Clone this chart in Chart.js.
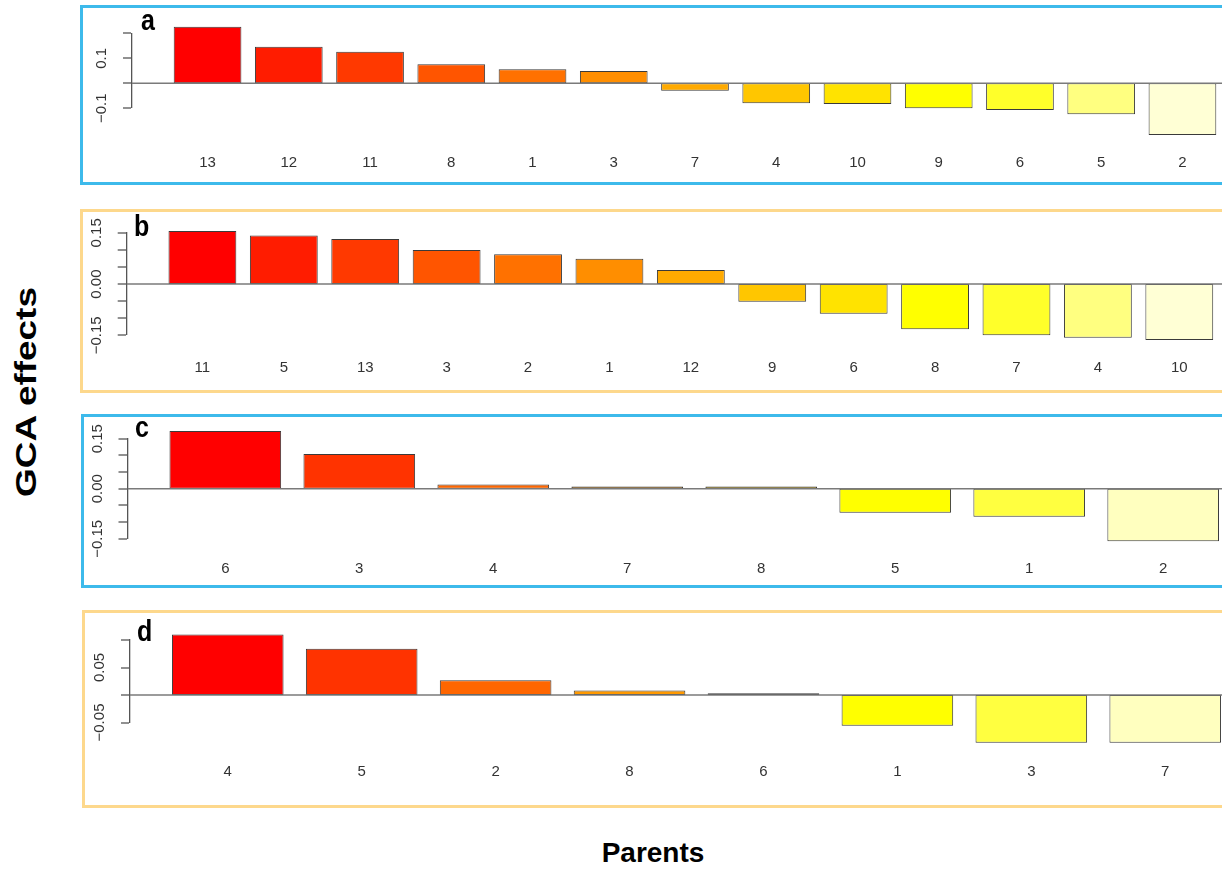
<!DOCTYPE html>
<html>
<head>
<meta charset="utf-8">
<title>GCA effects of parents</title>
<script src="https://cdn.jsdelivr.net/npm/chart.js@4.4.1/dist/chart.umd.min.js"></script>
<style>
  html, body { margin: 0; padding: 0; background: #fff; }
  body { width: 1222px; height: 869px; overflow: hidden; position: relative;
         font-family: "Liberation Sans", Arial, sans-serif; }
  .frame { position: absolute; box-sizing: border-box; border: 3px solid; }
  canvas { position: absolute; }
  .tag { position: absolute; font-weight: bold; font-size: 25px; line-height: 25px;
         transform: scaleY(1.2); transform-origin: 0 0; color: #000; }
  #ylab { position: absolute; left: 26px; top: 392px; font-size: 30px; font-weight: bold;
          line-height: 30px; white-space: nowrap; color: #000;
          transform: translate(-50%, -50%) rotate(-90deg) scaleX(1.23); }
  #xlab { position: absolute; left: 653px; top: 839px; font-size: 28px; font-weight: bold;
          line-height: 28px; white-space: nowrap; color: #000; transform: translateX(-50%); }
</style>
</head>
<body>
<div id="ylab">GCA effects</div>
<div id="xlab">Parents</div>

<script>
// ---- data: parents ordered by GCA effect, one set per trait panel ----
const parentsA = ['13', '12', '11', '8', '1', '3', '7', '4', '10', '9', '6', '5', '2'];
const gcaA     = [0.226, 0.146, 0.126, 0.076, 0.056, 0.049, -0.030, -0.080, -0.083, -0.100, -0.107, -0.124, -0.207];
const yTicksA      = [-0.1, 0, 0.1, 0.2];
const yTickLabelsA = ['\u22120.1', '', '0.1', ''];

const parentsB = ['11', '5', '13', '3', '2', '1', '12', '9', '6', '8', '7', '4', '10'];
const gcaB     = [0.155, 0.142, 0.132, 0.100, 0.087, 0.074, 0.041, -0.052, -0.087, -0.132, -0.150, -0.157, -0.164];
const yTicksB      = [-0.15, -0.10, -0.05, 0, 0.05, 0.10, 0.15];
const yTickLabelsB = ['\u22120.15', '', '', '0.00', '', '', '0.15'];

const parentsC = ['6', '3', '4', '7', '8', '5', '1', '2'];
const gcaC     = [0.173, 0.104, 0.013, 0.007, 0.007, -0.072, -0.084, -0.157];
const yTicksC      = [-0.15, -0.10, -0.05, 0, 0.05, 0.10, 0.15];
const yTickLabelsC = ['\u22120.15', '', '', '0.00', '', '', '0.15'];

const parentsD = ['4', '5', '2', '8', '6', '1', '3', '7'];
const gcaD     = [0.110, 0.084, 0.027, 0.008, 0.003, -0.056, -0.087, -0.087];
const yTicksD      = [-0.05, 0, 0.05, 0.10];
const yTickLabelsD = ['\u22120.05', '', '0.05', ''];

// ---- layout of the four stacked panels (page pixels) ----
const FONT = '"Liberation Sans", Arial, sans-serif';
const TICK_FONT = 15;
const BLUE = '#3dbaeb';
const GOLD = '#fdd88c';
const CANVAS_LEFT = 84;
const TICK_LEN = 9;

const panels = [
  { tag: 'a', cats: parentsA, vals: gcaA, yTicks: yTicksA, yLabels: yTickLabelsA,
    frame: { x: 80, y: 5, h: 180, color: BLUE }, tagPos: { x: 141, y: 4.6 },
    axisX: 132, plotRight: 1258, topPx: 33.3, bottomPx: 108.3, labelY: 163.3 },
  { tag: 'b', cats: parentsB, vals: gcaB, yTicks: yTicksB, yLabels: yTickLabelsB,
    frame: { x: 80, y: 208.5, h: 184.5, color: GOLD }, tagPos: { x: 134, y: 211.3 },
    axisX: 126.7, plotRight: 1255, topPx: 232.3, bottomPx: 334.3, labelY: 366.7 },
  { tag: 'c', cats: parentsC, vals: gcaC, yTicks: yTicksC, yLabels: yTickLabelsC,
    frame: { x: 81, y: 413.5, h: 174.5, color: BLUE }, tagPos: { x: 135, y: 411.9 },
    axisX: 127.5, plotRight: 1261, topPx: 438.2, bottomPx: 537.8, labelY: 568 },
  { tag: 'd', cats: parentsD, vals: gcaD, yTicks: yTicksD, yLabels: yTickLabelsD,
    frame: { x: 82, y: 610, h: 198, color: GOLD }, tagPos: { x: 137, y: 616.3 },
    axisX: 130, plotRight: 1263, topPx: 640, bottomPx: 722.5, labelY: 772 }
];

// R-style heat palette: red -> yellow, then fading yellows
function heatColors(n) {
  const j = Math.floor(n / 4), i = n - j;
  const hex = v => Math.round(v * 255).toString(16).padStart(2, '0');
  const hsv = (h, s) => {            // hue within [0, 1/6], value = 1
    const f = h * 6;
    return '#ff' + hex(1 - s * (1 - f)) + hex(1 - s);
  };
  const out = [];
  for (let k = 0; k < i; k++) out.push(hsv(i > 1 ? (k / (i - 1)) / 6 : 0, 1));
  const s0 = 1 - 1 / (2 * j), s1 = 1 / (2 * j);
  for (let k = 0; k < j; k++) out.push(hsv(1 / 6, j > 1 ? s0 - k * (s0 - s1) / (j - 1) : s0));
  return out;
}

const measure = document.createElement('canvas').getContext('2d');
measure.font = 'normal ' + TICK_FONT + 'px ' + FONT;

panels.forEach(p => {
  const n = p.cats.length;

  const frame = document.createElement('div');
  frame.className = 'frame';
  Object.assign(frame.style, {
    left: p.frame.x + 'px', top: p.frame.y + 'px', width: '1300px',
    height: p.frame.h + 'px', borderColor: p.frame.color
  });
  document.body.appendChild(frame);

  const canvasTop = p.frame.y + 3;
  const canvasH = p.frame.h - 6;
  const canvasBottom = canvasTop + canvasH;
  const cv = document.createElement('canvas');
  cv.width = Math.round(p.plotRight - CANVAS_LEFT);
  cv.height = Math.round(canvasH);
  cv.style.left = CANVAS_LEFT + 'px';
  cv.style.top = canvasTop + 'px';
  document.body.appendChild(cv);

  const tag = document.createElement('div');
  tag.className = 'tag';
  tag.textContent = p.tag;
  tag.style.left = p.tagPos.x + 'px';
  tag.style.top = p.tagPos.y + 'px';
  document.body.appendChild(tag);

  // bars sit on integer positions; the x range leaves the usual 4% margin
  const ext = 0.04 * (1.2 * n - 0.2);
  const side = (0.5 + ext) / 1.2;
  const xMin = -side, xMax = n - 1 + side;
  const widest = Math.max(...p.yLabels.map(s => measure.measureText(s).width));
  const yPad = 30 - TICK_LEN - widest / 2;
  const xLineH = TICK_FONT * 1.2;

  new Chart(cv, {
    type: 'bar',
    data: {
      datasets: [
        {
          // horizontal reference line at zero across the whole plot
          type: 'line',
          order: 0,
          data: [{ x: xMin, y: 0 }, { x: xMax, y: 0 }],
          borderColor: '#7a7a7a',
          borderWidth: 1.5,
          pointRadius: 0,
          fill: false
        },
        {
          type: 'bar',
          order: 1,
          data: p.vals.map((v, i) => ({ x: i, y: v })),
          backgroundColor: heatColors(n),
          borderColor: '#3a3a3a',
          borderWidth: 1,
          borderSkipped: false,
          barPercentage: 1 / 1.2,
          categoryPercentage: 1,
          clip: false
        }
      ]
    },
    options: {
      responsive: false,
      animation: false,
      devicePixelRatio: 1,
      layout: { padding: { top: p.topPx - canvasTop, left: 0, right: 0, bottom: 0 } },
      plugins: { legend: { display: false }, tooltip: { enabled: false }, title: { display: false } },
      scales: {
        x: {
          type: 'linear',
          offset: false,
          min: xMin,
          max: xMax,
          grid: { display: false, drawTicks: false, offset: false },
          border: { display: false },
          afterBuildTicks: s => { s.ticks = p.cats.map((c, i) => ({ value: i })); },
          afterFit: s => { s.height = canvasBottom - p.bottomPx; },
          ticks: {
            autoSkip: false, minRotation: 0, maxRotation: 0,
            padding: p.labelY - p.bottomPx - xLineH / 2,
            color: '#333',
            font: { family: FONT, size: TICK_FONT },
            callback: v => p.cats[Math.round(v)]
          }
        },
        y: {
          min: p.yTicks[0],
          max: p.yTicks[p.yTicks.length - 1],
          afterBuildTicks: s => { s.ticks = p.yTicks.map(v => ({ value: v })); },
          afterFit: s => { s.width = p.axisX - CANVAS_LEFT; },
          grid: {
            drawOnChartArea: false,
            lineWidth: 0,
            tickColor: '#555',
            tickLength: TICK_LEN,
            tickWidth: 1.3
          },
          border: { display: true, color: '#555', width: 1.3 },
          ticks: {
            autoSkip: false,
            minRotation: 90, maxRotation: 90,
            crossAlign: 'center',
            padding: yPad,
            color: '#333',
            font: { family: FONT, size: TICK_FONT },
            callback: (v, i) => p.yLabels[i]
          }
        }
      }
    }
  });
});
</script>
</body>
</html>
